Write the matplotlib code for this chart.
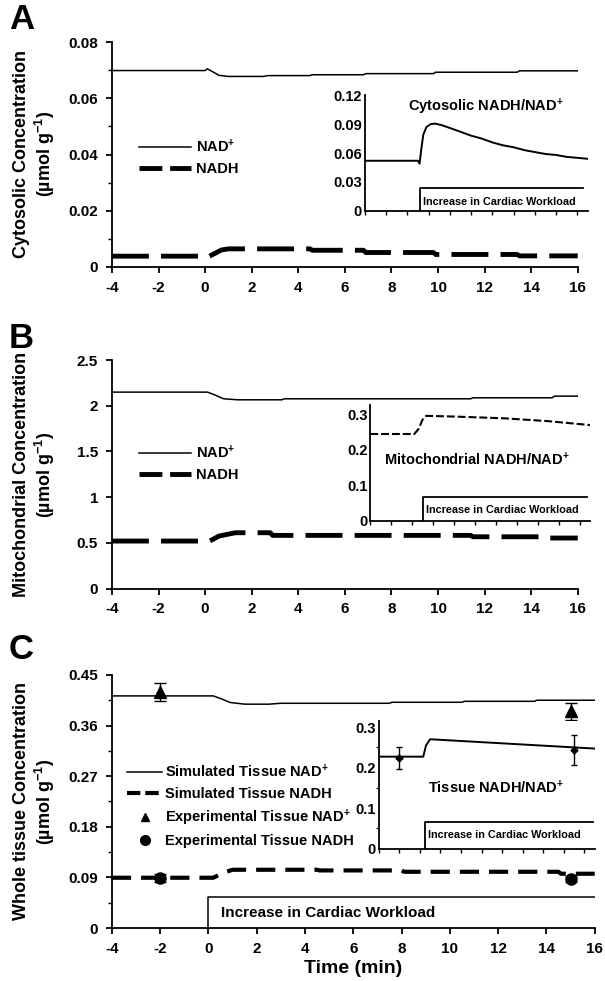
import matplotlib
matplotlib.use('Agg')
import matplotlib.pyplot as plt
from matplotlib.lines import Line2D

plt.rcParams['font.family'] = ['Liberation Sans', 'DejaVu Sans']
plt.rcParams['font.weight'] = 'bold'
plt.rcParams['axes.labelweight'] = 'bold'
plt.rcParams['mathtext.fontset'] = 'custom'
plt.rcParams['mathtext.rm'] = 'Liberation Sans:bold'
plt.rcParams['mathtext.bf'] = 'Liberation Sans:bold'
plt.rcParams['mathtext.it'] = 'Liberation Sans:bold:italic'
plt.rcParams['mathtext.sf'] = 'Liberation Sans:bold'

# ---- panel A: cytosol ----
a_nad_t = [-4, 0, 0.1, 0.6, 1.0, 2.5, 2.7, 4.5, 4.6, 6.8, 6.9, 9.8, 9.9, 13.4, 13.5, 16]
a_nad = [0.0699, 0.0699, 0.0705, 0.0682, 0.0678, 0.0678, 0.0681, 0.0681, 0.0684, 0.0684,
         0.0688, 0.0688, 0.0693, 0.0693, 0.0698, 0.0698]
a_nadh_t = [-4, 0, 0.1, 0.7, 1.0, 4.5, 4.6, 6.8, 6.9, 9.8, 9.9, 13.4, 13.5, 16]
a_nadh = [0.0038, 0.0038, 0.0034, 0.0060, 0.0064, 0.0064, 0.0059, 0.0059, 0.0051, 0.0051,
          0.0044, 0.0044, 0.0039, 0.0039]
a_ratio_t = [-4, 1.0, 1.15, 1.3, 1.5, 1.8, 2.2, 2.6, 3.2, 4, 5, 6, 7, 8, 9, 10, 11, 12,
             13, 14, 15, 16, 17]
a_ratio = [0.052, 0.052, 0.049, 0.063, 0.079, 0.087, 0.090, 0.0905, 0.089, 0.086, 0.082,
           0.078, 0.075, 0.071, 0.068, 0.066, 0.063, 0.061, 0.059, 0.058, 0.056, 0.055, 0.054]

# ---- panel B: mitochondria ----
b_nad_t = [-4, 0.1, 0.4, 0.8, 1.4, 3.3, 3.4, 11.4, 11.5, 14.9, 15.0, 16]
b_nad = [2.149, 2.149, 2.12, 2.076, 2.065, 2.065, 2.076, 2.076, 2.087, 2.087, 2.105, 2.105]
b_nadh_t = [-4, 0.2, 0.6, 1.3, 2.8, 2.9, 11.4, 11.5, 14.7, 14.8, 16]
b_nadh = [0.520, 0.520, 0.575, 0.611, 0.611, 0.582, 0.582, 0.567, 0.567, 0.553, 0.553]
b_ratio_t = [-4, 0.2, 0.6, 1.0, 1.35, 4, 8.8, 13, 17]
b_ratio = [0.244, 0.244, 0.258, 0.285, 0.295, 0.293, 0.288, 0.280, 0.269]

# ---- panel C: whole tissue ----
c_nad_t = [-4, 0.2, 0.5, 0.9, 1.5, 2.5, 3.0, 7.5, 7.6, 10.5, 10.6, 13.5, 13.6, 16]
c_nad = [0.4127, 0.4127, 0.408, 0.401, 0.398, 0.398, 0.3996, 0.3996, 0.4014, 0.4014,
         0.4031, 0.4031, 0.405, 0.405]
c_nadh_t = [-4, 0.2, 0.6, 1.0, 4.5, 4.6, 8.0, 8.1, 14.5, 14.6, 16]
c_nadh = [0.0894, 0.0894, 0.098, 0.1036, 0.1036, 0.1024, 0.1024, 0.100, 0.100, 0.0965, 0.0965]
c_exp_t = [-2, 15]
c_exp_nad = [0.419, 0.385]
c_exp_nad_err = [0.016, 0.0155]
c_exp_nadh = [0.089, 0.087]
c_exp_nadh_err = [0.007, 0.006]
c_ratio_t = [-4, 0.33, 0.6, 1.0, 17]
c_ratio = [0.227, 0.227, 0.255, 0.270, 0.247]
c_exp_ratio = [0.223, 0.244]
c_exp_ratio_err = [0.027, 0.037]

# ---- ticks ----
x_ticks = [-4, -2, 0, 2, 4, 6, 8, 10, 12, 14, 16]
x_labels = ['-4', '-2', '0', '2', '4', '6', '8', '10', '12', '14', '16']
a_yticks = [0, 0.02, 0.04, 0.06, 0.08]
a_ylabels = ['0', '0.02', '0.04', '0.06', '0.08']
b_yticks = [0, 0.5, 1, 1.5, 2, 2.5]
b_ylabels = ['0', '0.5', '1', '1.5', '2', '2.5']
c_yticks = [0, 0.09, 0.18, 0.27, 0.36, 0.45]
c_ylabels = ['0', '0.09', '0.18', '0.27', '0.36', '0.45']
ia_yticks = [0, 0.03, 0.06, 0.09, 0.12]
ia_ylabels = ['0', '0.03', '0.06', '0.09', '0.12']
ib_yticks = [0, 0.1, 0.2, 0.3]
ib_ylabels = ['0', '0.1', '0.2', '0.3']

NAD = 'NAD$^{+}$'
work_text = 'Increase in Cardiac Workload'


def style_main(ax, yticks, ylabels, ymax, minor=None):
    ax.set_xlim(-4, 16)
    ax.set_ylim(0, ymax)
    for s in ['top', 'right']:
        ax.spines[s].set_visible(False)
    for s in ['left', 'bottom']:
        ax.spines[s].set_linewidth(1.3)
    ax.set_xticks(x_ticks)
    ax.set_xticklabels(x_labels, fontweight='bold')
    ax.set_yticks(yticks)
    ax.set_yticklabels(ylabels, fontweight='bold')
    if minor is not None:
        ax.set_yticks(minor, minor=True)
    ax.tick_params(axis='both', labelsize=11, width=1.3, length=4)
    ax.tick_params(axis='x', pad=6)
    ax.tick_params(axis='y', pad=6)
    ax.tick_params(which='minor', width=1.0, length=3)


def style_inset(ax, yticks, ylabels, ymax, minor=None):
    ax.set_xlim(-4, 17)
    ax.set_ylim(0, ymax)
    for s in ['top', 'right']:
        ax.spines[s].set_visible(False)
    for s in ['left', 'bottom']:
        ax.spines[s].set_linewidth(1.3)
    ax.set_xticks(x_ticks)
    ax.set_xticklabels([])
    ax.set_yticks(yticks)
    ax.set_yticklabels(ylabels, fontweight='bold')
    if minor is not None:
        ax.set_yticks(minor, minor=True)
    ax.tick_params(axis='x', length=3, width=1.0)
    ax.tick_params(axis='y', length=0, labelsize=10.5, pad=2)
    ax.tick_params(which='minor', length=2, width=0.8)


def workload_box(ax, t0, t1, h, ty, size):
    ax.plot([t0, t0, t1], [0, h, h], color='black', lw=1.3)
    ax.text(t0 + 0.3, ty, work_text, fontsize=size, va='center', ha='left',
            fontweight='bold')


fig = plt.figure(figsize=(6.05, 9.81), dpi=100)

# positions (figure fractions)
axA = fig.add_axes([0.185, 0.728, 0.770, 0.229])
axB = fig.add_axes([0.185, 0.400, 0.770, 0.233])
axC = fig.add_axes([0.185, 0.054, 0.798, 0.258])
inA = fig.add_axes([0.603, 0.785, 0.369, 0.118])
inB = fig.add_axes([0.612, 0.469, 0.364, 0.118])
inC = fig.add_axes([0.626, 0.135, 0.357, 0.130])

thick_dash = (0, (7.6, 2.5))

# A
axA.plot(a_nad_t, a_nad, color='black', lw=1.1)
axA.plot(a_nadh_t, a_nadh, color='black', lw=3.5, linestyle=thick_dash)
style_main(axA, a_yticks, a_ylabels, 0.08, minor=[0.01, 0.03, 0.05, 0.07])
hA = [Line2D([], [], color='black', lw=1.1),
      Line2D([], [], color='black', lw=3.5, linestyle=(0, (4.7, 1.6)))]
axA.legend(hA, [NAD, 'NADH'], loc='upper left', bbox_to_anchor=(0.045, 0.60),
           frameon=False, prop={'size': 10.5, 'weight': 'bold'}, handlelength=3.6,
           handletextpad=0.3, labelspacing=0.5, borderaxespad=0)

inA.plot(a_ratio_t, a_ratio, color='black', lw=1.4)
style_inset(inA, ia_yticks, ia_ylabels, 0.12)
workload_box(inA, 1.15, 16.5, 0.024, 0.009, 7.8)
inA.text(7.4, 0.108, 'Cytosolic NADH/' + NAD, fontsize=10.5, ha='center', va='center',
         fontweight='bold')

# B
axB.plot(b_nad_t, b_nad, color='black', lw=1.1)
axB.plot(b_nadh_t, b_nadh, color='black', lw=3.5, linestyle=thick_dash)
style_main(axB, b_yticks, b_ylabels, 2.5)
hB = [Line2D([], [], color='black', lw=1.1),
      Line2D([], [], color='black', lw=3.5, linestyle=(0, (4.7, 1.6)))]
axB.legend(hB, [NAD, 'NADH'], loc='upper left', bbox_to_anchor=(0.045, 0.66),
           frameon=False, prop={'size': 10.5, 'weight': 'bold'}, handlelength=3.6,
           handletextpad=0.3, labelspacing=0.5, borderaxespad=0)

inB.plot(b_ratio_t, b_ratio, color='black', lw=1.5, linestyle=(0, (3.8, 1.4)))
style_inset(inB, ib_yticks, ib_ylabels, 0.325)
workload_box(inB, 1.0, 16.7, 0.068, 0.031, 7.8)
inB.text(6.2, 0.171, 'Mitochondrial NADH/' + NAD, fontsize=10.5, ha='center',
         va='center', fontweight='bold')

# C
axC.plot(c_nad_t, c_nad, color='black', lw=1.1)
axC.plot(c_nadh_t, c_nadh, color='black', lw=3.0, linestyle=(0, (4.6, 2.4)))
axC.errorbar(c_exp_t, c_exp_nad, yerr=c_exp_nad_err, fmt='^', color='black', ms=8,
             elinewidth=1.0, capsize=4, capthick=1.0)
axC.errorbar(c_exp_t, c_exp_nadh, yerr=c_exp_nadh_err, fmt='o', color='black', ms=8,
             elinewidth=1.0, capsize=4, capthick=1.0)
style_main(axC, c_yticks, c_ylabels, 0.45, minor=[0.045, 0.135, 0.225, 0.315, 0.405])
axC.plot([0, 0, 16], [0, 0.0545, 0.0545], color='black', lw=1.1)
axC.text(0.5, 0.027, work_text, fontsize=11, va='center', ha='left', fontweight='bold')
hC = [Line2D([], [], color='black', lw=1.1),
      Line2D([], [], color='black', lw=3.0, linestyle=(0, (3.2, 1.2))),
      Line2D([], [], color='black', marker='^', ls='none', ms=6),
      Line2D([], [], color='black', marker='o', ls='none', ms=7)]
axC.legend(hC, ['Simulated Tissue ' + NAD, 'Simulated Tissue NADH',
                'Experimental Tissue ' + NAD, 'Experimental Tissue NADH'],
           loc='upper left', bbox_to_anchor=(0.02, 0.675), frameon=False,
           prop={'size': 10.5, 'weight': 'bold'}, handlelength=2.4, handletextpad=0.2,
           labelspacing=0.45, borderaxespad=0)

inC.plot(c_ratio_t, c_ratio, color='black', lw=1.4)
inC.errorbar(c_exp_t, c_exp_ratio, yerr=c_exp_ratio_err, fmt='D', color='black', ms=3.5,
             elinewidth=1.0, capsize=2.5, capthick=1.0)
style_inset(inC, ib_yticks, ib_ylabels, 0.315, minor=[0.05, 0.15, 0.25])
workload_box(inC, 0.53, 16.8, 0.066, 0.034, 7.8)
inC.text(7.4, 0.150, 'Tissue NADH/' + NAD, fontsize=10.5, ha='center', va='center',
         fontweight='bold')

# y labels, x label, panel letters
ylab_kw = dict(rotation=90, ha='center', va='center', fontsize=13,
               multialignment='center', fontweight='bold')
fig.text(0.058, 0.843, 'Cytosolic Concentration\n(\u00b5mol g$^{-1}$)', **ylab_kw)
fig.text(0.058, 0.516, 'Mitochondrial Concentration\n(\u00b5mol g$^{-1}$)', **ylab_kw)
fig.text(0.058, 0.183, 'Whole tissue Concentration\n(\u00b5mol g$^{-1}$)', **ylab_kw)
axC.set_xlabel('Time (min)', fontsize=14, labelpad=3, fontweight='bold')

fig.text(0.015, 0.997, 'A', fontsize=25, va='top', ha='left', fontweight='bold')
fig.text(0.015, 0.672, 'B', fontsize=25, va='top', ha='left', fontweight='bold')
fig.text(0.015, 0.355, 'C', fontsize=25, va='top', ha='left', fontweight='bold')

fig.savefig('out.png', dpi=100, facecolor='white')
